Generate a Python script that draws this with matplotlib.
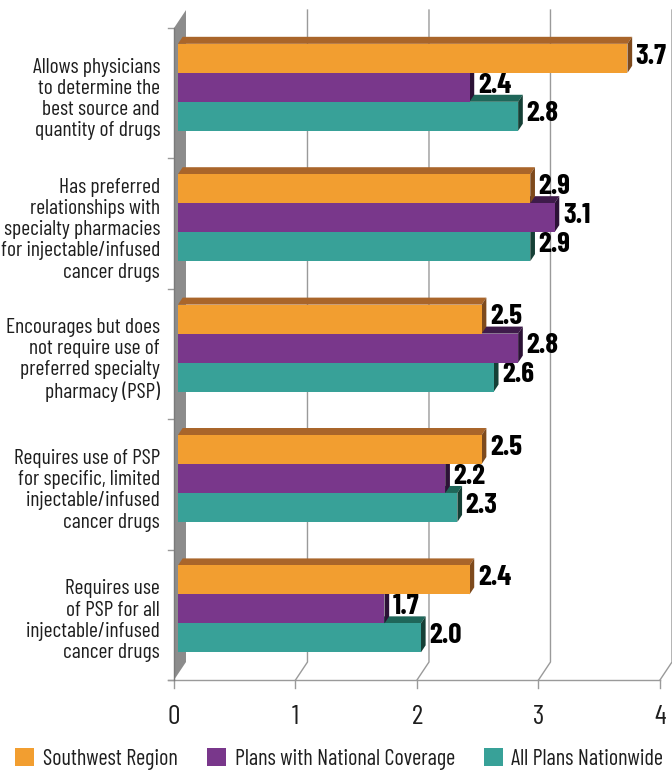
import numpy as np
import matplotlib.pyplot as plt
import matplotlib.font_manager as fm
from matplotlib.patches import Patch

# survey categories, top to bottom
categories = [
    "Allows physicians\nto determine the\nbest source and\nquantity of drugs",
    "Has preferred\nrelationships with\nspecialty pharmacies\nfor injectable/infused\ncancer drugs",
    "Encourages but does\nnot require use of\npreferred specialty\npharmacy (PSP)",
    "Requires use of PSP\nfor specific, limited\ninjectable/infused\ncancer drugs",
    "Requires use\nof PSP for all\ninjectable/infused\ncancer drugs",
]
series_names = ["Southwest Region", "Plans with National Coverage", "All Plans Nationwide"]
southwest = [3.7, 2.9, 2.5, 2.5, 2.4]
national = [2.4, 3.1, 2.8, 2.2, 1.7]
nationwide = [2.8, 2.9, 2.6, 2.3, 2.0]
xticks = [0, 1, 2, 3, 4]

# face / top / side colours for each series
face_cols = ["#F29E30", "#79378B", "#38A198"]
top_cols = ["#A9652A", "#3E1B4A", "#1F6659"]
side_cols = ["#7E4A1C", "#2C1236", "#154036"]

installed = {f.name for f in fm.fontManager.ttflist}


def pick(names):
    for n in names:
        if n in installed:
            return n
    return "DejaVu Sans"


label_font = pick(["Barlow Condensed", "Roboto Condensed", "Sofia Sans Condensed",
                   "Asap Condensed", "Archivo Narrow", "PT Sans Narrow", "Liberation Sans Narrow"])
value_font = pick(["Barlow Condensed", "Roboto Condensed", "Oswald", "Asap Condensed",
                   "Archivo Narrow", "Liberation Sans Narrow"])

fig = plt.figure(figsize=(6.72, 7.73), dpi=100)
ax = fig.add_axes([0, 0, 1, 1])
ax.set_xlim(-1.432, 4.099)
ax.set_ylim(-0.713, 5.215)
ax.axis("off")

# 3D depth offset (back plane relative to front plane)
dx, dy = 0.0988, 0.138
t0, t1 = 0.33, 0.72
ncat = len(categories)
grid_col = "#9a9a9a"
text_col = "#1e1e1e"

# left wall
ax.fill([0, dx, dx, 0], [0, dy, ncat + dy, ncat], color="#8c8c8c", lw=0, zorder=1)
ax.plot([0, 0], [0, ncat], color="#7a7a7a", lw=1, zorder=1.1)
for k in range(ncat + 1):
    ax.plot([-0.05, 0], [k, k], color=grid_col, lw=1, zorder=1)

# back gridlines and floor
for k in xticks[1:]:
    ax.plot([k, k + dx, k + dx], [0, dy, ncat + dy], color=grid_col, lw=1, zorder=0.5)
ax.plot([-0.05, xticks[-1]], [0, 0], color=grid_col, lw=1, zorder=0.5)
for k in xticks:
    ax.plot([k, k], [0, -0.06], color=grid_col, lw=1, zorder=0.5)
    ax.text(k, -0.284, str(k), ha="center", va="center", fontsize=20,
            family=label_font, color=text_col)

bar_h = 2 / 9
values = [southwest, national, nationwide]
z = 2
for i in range(ncat - 1, -1, -1):
    center = ncat - i - 0.5
    ax.text(-0.115, center - 0.045, categories[i], ha="right", va="center",
            multialignment="right", fontsize=15.5, family=label_font,
            linespacing=1.15, color=text_col)
    for s in range(2, -1, -1):
        v = values[s][i]
        yt = center + 1 / 3 - s * bar_h
        yb = yt - bar_h
        fx0, fy0 = t0 * dx, t0 * dy
        fx1, fy1 = t1 * dx, t1 * dy
        # top face
        ax.fill([fx0, v + fx0, v + fx1, fx1], [yt + fy0, yt + fy0, yt + fy1, yt + fy1],
                color=top_cols[s], lw=0, zorder=z)
        # side face
        ax.fill([v + fx0, v + fx1, v + fx1, v + fx0], [yb + fy0, yb + fy1, yt + fy1, yt + fy0],
                color=side_cols[s], lw=0, zorder=z)
        # front face
        ax.fill([fx0, v + fx0, v + fx0, fx0], [yb + fy0, yb + fy0, yt + fy0, yt + fy0],
                color=face_cols[s], lw=0, zorder=z)
        z += 1
        ax.text(v + fx1 + 0.03, (yb + yt) / 2 + fy0 - 0.04, f"{v:.1f}",
                ha="left", va="baseline", fontsize=21, fontweight="bold",
                family=value_font, color="black", zorder=1.5)

handles = [Patch(facecolor=c, edgecolor="none") for c in face_cols]
leg = ax.legend(handles, series_names, loc="center", bbox_to_anchor=(0.505, 0.018),
                bbox_transform=fig.transFigure, ncol=3, frameon=False,
                prop={"family": label_font, "size": 16}, handlelength=0.85,
                handleheight=0.85, handletextpad=0.4, columnspacing=1.3,
                borderaxespad=0, borderpad=0)
for t in leg.get_texts():
    t.set_color(text_col)

fig.savefig("out.png", dpi=100)
